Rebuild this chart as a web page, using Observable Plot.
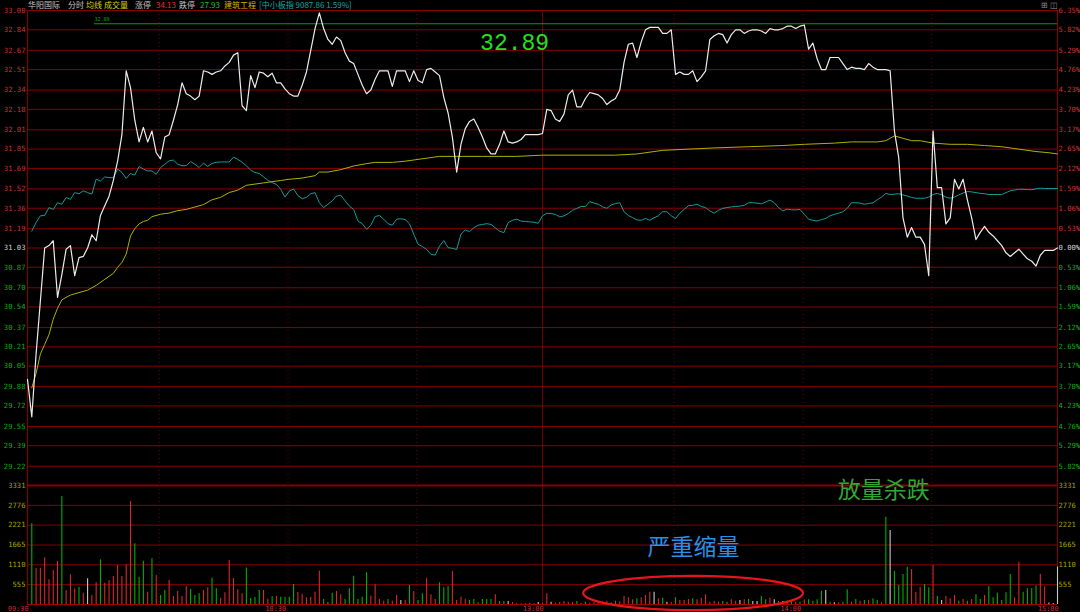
<!DOCTYPE html>
<html>
<head>
<meta charset="utf-8">
<script src="https://cdn.jsdelivr.net/npm/d3@7"></script>
<script src="https://cdn.jsdelivr.net/npm/@observablehq/plot@0.6"></script>
<style>
html,body{margin:0;padding:0;background:#000;}
#wrap{position:relative;width:1080px;height:612px;background:#000;overflow:hidden;}
#hdr span{position:absolute;top:0;font-family:"Noto Sans CJK SC",sans-serif;font-size:8px;line-height:10px;white-space:pre;}
#p1,#p2{position:relative;}
</style>
</head>
<body>
<div id="wrap"><div id="p1"></div><div id="p2"></div><div id="hdr"></div></div>
<script>
// ---------------- data ----------------
const basePrice = 31.03;          // previous close
const highMark = 32.89;           // day-high reference line
const priceTickLabels = ["33.00","32.84","32.67","32.51","32.34","32.18","32.01","31.85","31.69","31.52","31.36","31.19",
  "31.03","30.87","30.70","30.54","30.37","30.21","30.05","29.88","29.72","29.55","29.39","29.22"];
const pctTickLabels = ["6.35%","5.82%","5.29%","4.76%","4.23%","3.70%","3.17%","2.65%","2.12%","1.59%","1.06%","0.53%",
  "0.00%","0.53%","1.06%","1.59%","2.12%","2.65%","3.17%","3.70%","4.23%","4.76%","5.29%","5.82%"];
const volTickLabels = ["3331","2776","2221","1665","1110","555"];
const timeTickMinutes = [0, 60, 120, 180, 240];
const timeTickLabels = ["09:30","10:30","13:00","14:00","15:00"];
const halfHourMinutes = [30, 60, 90, 150, 180, 210];
const lunchBreakMinute = 120;

// minute-by-minute last price, minute 0 = 09:30 ... minute 240 = 15:00
const price = [
29.94,29.63,30.15,30.59,31.03,31.05,31.09,30.62,30.81,31.02,
31.05,30.80,30.95,30.96,31.03,31.14,31.09,31.30,31.38,31.46,
31.59,31.75,31.97,32.50,32.36,32.09,31.91,32.03,31.91,32.00,
31.82,31.77,31.95,31.97,32.09,32.22,32.40,32.31,32.29,32.26,
32.29,32.50,32.49,32.47,32.49,32.50,32.54,32.57,32.63,32.65,
32.21,32.17,32.46,32.36,32.49,32.48,32.45,32.48,32.40,32.40,
32.35,32.31,32.29,32.29,32.38,32.49,32.67,32.85,32.98,32.85,
32.76,32.72,32.78,32.75,32.65,32.58,32.56,32.47,32.38,32.31,
32.34,32.43,32.50,32.50,32.50,32.37,32.50,32.50,32.50,32.41,
32.50,32.42,32.40,32.51,32.52,32.49,32.46,32.28,32.15,31.95,
31.66,31.89,32.02,32.08,32.10,32.03,31.95,31.86,31.81,31.81,
31.89,32.00,31.91,31.90,31.91,31.93,31.97,31.97,31.97,31.97,
31.98,32.18,32.17,32.10,32.08,32.14,32.30,32.34,32.20,32.20,
32.27,32.32,32.31,32.30,32.27,32.22,32.25,32.27,32.34,32.57,
32.72,32.73,32.61,32.74,32.84,32.86,32.86,32.86,32.81,32.81,
32.84,32.47,32.49,32.47,32.47,32.50,32.41,32.45,32.50,32.76,
32.79,32.81,32.80,32.73,32.80,32.84,32.84,32.81,32.83,32.84,
32.84,32.83,32.81,32.85,32.84,32.84,32.85,32.87,32.87,32.85,
32.87,32.88,32.68,32.73,32.60,32.51,32.51,32.61,32.61,32.61,
32.56,32.51,32.53,32.52,32.52,32.51,32.56,32.53,32.51,32.51,
32.51,32.50,32.00,31.78,31.28,31.12,31.20,31.12,31.12,31.06,
30.80,32.00,31.53,31.53,31.23,31.28,31.60,31.52,31.60,31.43,
31.28,31.10,31.16,31.21,31.16,31.13,31.09,31.05,30.99,30.96,
30.99,31.02,30.98,30.94,30.92,30.88,30.97,31.01,31.01,31.01,
31.03];

// average price line (均线)
const avgMinutes = [1,2,3,4,5,6,7,8,10,12,14,16,18,20,21,22,23,24,25,26,27,28,29,31,33,35,37,39,41,43,45,47,49,51,53,55,57,59,
  61,64,67,68,70,73,76,79,81,85,88,90,94,96,100,106,114,120,137,142,148,160,168,176,
  181,188,192,198,200,201,202,204,206,208,211,215,219,223,227,231,235,238,240];
const avgPrices = [29.87,29.99,30.15,30.23,30.31,30.44,30.53,30.60,30.64,30.66,30.68,30.72,30.77,30.82,
  30.87,30.91,30.98,31.13,31.19,31.23,31.25,31.26,31.29,
  31.31,31.32,31.34,31.35,31.37,31.39,31.43,31.45,31.49,31.51,31.55,31.56,31.57,31.58,31.59,
  31.60,31.61,31.63,31.66,31.66,31.68,31.71,31.73,31.74,31.74,31.75,31.76,31.78,31.79,31.79,31.79,31.79,31.80,
  31.80,31.81,31.84,31.86,31.87,31.88,
  31.89,31.90,31.91,31.91,31.92,31.94,31.96,31.94,31.92,31.92,31.90,31.89,31.89,31.88,31.87,31.85,31.83,31.82,31.81];

// 中小板指 % change, minutes 1..240
const indexPct = [
0.45,0.68,0.86,0.87,1.08,1.03,1.21,1.17,1.35,1.30,
1.48,1.45,1.53,1.48,1.44,1.84,1.79,1.90,1.88,1.88,
2.11,2.02,1.86,1.99,1.95,2.18,2.11,2.06,2.06,1.97,
2.15,2.24,2.33,2.35,2.24,2.20,2.20,2.31,2.24,2.15,
2.27,2.18,2.26,2.29,2.30,2.30,2.30,2.43,2.37,2.29,
2.20,2.08,2.02,1.99,1.90,1.81,1.75,1.70,1.57,1.36,
1.52,1.58,1.40,1.32,1.35,1.45,1.48,1.21,1.08,1.17,
1.26,1.39,1.41,1.26,1.12,1.03,0.72,0.65,0.50,0.61,
0.84,0.87,0.77,0.65,0.61,0.77,0.78,0.76,0.65,0.37,
0.10,0.04,-0.04,-0.17,-0.19,0.05,0.20,0.01,-0.01,-0.04,
0.37,0.48,0.44,0.54,0.61,0.63,0.65,0.63,0.54,0.45,
0.41,0.68,0.74,0.77,0.72,0.71,0.70,0.69,0.66,0.86,
0.93,0.92,0.90,0.83,0.86,0.92,1.01,1.06,1.11,1.11,
1.24,1.20,1.17,1.10,1.06,1.15,1.19,1.21,0.97,0.87,
0.81,0.75,0.74,0.79,0.74,0.81,0.86,0.97,0.97,0.86,
0.79,0.93,1.03,1.13,1.14,1.17,1.11,1.08,0.99,0.93,
1.01,1.06,1.08,1.10,1.11,1.12,1.14,1.21,1.21,1.20,
1.18,1.23,1.28,1.21,1.08,0.99,1.04,1.02,1.02,1.03,
0.90,0.77,0.74,0.72,0.76,0.79,0.86,0.90,0.93,0.97,
1.06,1.21,1.21,1.20,1.17,1.19,1.21,1.29,1.36,1.46,
1.43,1.44,1.45,1.42,1.39,1.35,1.33,1.33,1.33,1.36,
1.43,1.46,1.42,1.36,1.33,1.36,1.42,1.47,1.51,1.50,
1.48,1.46,1.45,1.43,1.43,1.43,1.43,1.48,1.53,1.55,
1.57,1.57,1.56,1.56,1.58,1.60,1.59,1.59,1.59,1.59];

// volume (lots) per minute, minute 0..240
const volume = [0,
2260,1017,1017,1306,690,952,1204,3023,392,830,
438,485,317,718,252,606,1250,597,672,784,
1092,784,1110,2883,1698,765,1213,345,1278,812,
252,392,672,224,364,224,504,420,252,299,
392,467,737,438,177,327,1232,728,415,299,
1020,170,195,392,392,150,215,224,205,205,
205,560,336,290,187,205,340,933,140,65,
317,364,271,140,439,793,140,205,886,233,
550,140,93,140,93,252,112,112,532,364,
112,299,737,271,140,606,467,504,924,112,
205,140,112,140,47,140,140,140,271,84,
84,84,56,19,19,19,37,19,56,37,
299,65,37,56,84,65,56,84,37,65,
37,47,37,65,93,47,93,75,224,187,
131,159,187,252,345,345,159,177,65,65,
187,112,112,140,159,131,177,271,65,84,
65,84,65,131,93,112,131,140,84,84,
224,131,177,131,84,84,93,84,65,65,
131,131,93,131,373,392,65,47,47,65,
410,65,140,93,112,112,159,112,47,2440,
2070,924,532,840,1040,980,345,485,560,467,
1092,224,112,224,159,252,93,140,93,140,
271,140,252,504,187,317,112,327,840,187,
1180,345,439,450,520,840,500,40,30,1050];
// bar direction: r = up, g = down, w = unchanged
const volumeDir = ["w",
"g","r","r","r","r","r","r","g","r","r",
"r","g","r","w","r","r","g","r","r","r",
"r","r","r","r","g","g","g","r","g","r",
"g","g","r","r","r","r","r","g","g","g",
"r","r","g","g","r","r","r","r","r","r",
"g","g","g","g","r","r","g","r","g","g",
"g","g","r","r","r","r","r","r","g","g",
"g","r","r","g","g","g","g","g","g","r",
"r","r","r","g","r","r","w","r","g","r",
"g","g","r","r","r","g","g","g","r","r",
"r","r","g","g","g","g","g","g","r","g",
"g","w","r","r","r","r","r","r","w","r",
"r","w","r","r","r","r","r","g","r","g",
"r","r","r","r","r","r","r","r","r","r",
"r","g","r","r","r","w","r","g","w","r",
"g","r","r","r","g","r","r","r","r","r",
"r","g","g","r","r","w","r","g","w","w",
"g","g","r","w","g","w","g","g","r","g",
"r","g","g","g","g","w","g","w","r","g",
"g","r","g","r","g","r","g","g","r","g",
"w","g","g","g","g","r","r","r","g","g",
"r","g","w","r","r","r","g","r","g","r",
"g","g","r","g","g","g","g","g","g","r",
"r","g","g","g","g","r","r","w","w","w"];

// ---------------- derived tables ----------------
const lowPrice = +(2 * basePrice - +priceTickLabels[0]).toFixed(2);
const highPrice = +priceTickLabels[0];
const priceRows = price.map((p, m) => ({m, p}));
const avgRows = avgMinutes.map((m, i) => ({m, p: avgPrices[i]}));
const idxRows = indexPct.map((v, i) => ({m: i + 1, p: basePrice * (1 + v / 100)}));
const volRows = volume.map((v, m) => ({m, v, d: volumeDir[m]})).filter(d => d.v > 0);
const priceTicks = priceTickLabels.map((label, i) => ({v: +label, label, pct: pctTickLabels[i], i}));
const volTicks = volTickLabels.map(label => ({v: +label, label}));
const timeTicks = timeTickMinutes.map((m, i) => ({m, label: timeTickLabels[i]}));

const mono = "DejaVu Sans Mono, monospace";
const cjk = "Noto Sans CJK SC, sans-serif";
const gridRed = "#880000";
const vGrid = "#6e0000";
const upRed = "#cc3333", downGreen = "#19a819", flatWhite = "#d2d2d2";
const tickColor = d => d.i < 12 ? upRed : d.i === 12 ? flatWhite : downGreen;
const barColor = {r: "#d42a2a", g: "#00b000", w: "#c8c8c8"};
const volTextColor = "#a8a000";
const common = {
  width: 1080, marginLeft: 27, marginRight: 23,
  x: {domain: [0, 240], axis: null},
  style: {background: "transparent", overflow: "visible", fontFamily: mono}
};

// ---------------- price pane ----------------
const p1 = Plot.plot({
  ...common,
  height: 485, marginTop: 10, marginBottom: 0,
  y: {domain: [lowPrice, highPrice], axis: null},
  marks: [
    Plot.ruleY(priceTicks, {y: "v", stroke: gridRed, strokeWidth: 1}),
    Plot.ruleX(halfHourMinutes, {stroke: vGrid, strokeDasharray: "1,3", dx: 3}),
    Plot.ruleX([lunchBreakMinute], {stroke: vGrid}),
    Plot.ruleX([0, 240], {stroke: gridRed}),
    Plot.ruleY([{y: highMark, x1: 15.6, x2: 240}], {y: "y", x1: "x1", x2: "x2", stroke: "#00a000", strokeWidth: 1.2}),
    Plot.text([{y: highMark, x: 15.6}], {x: "x", y: "y", text: d => d.y.toFixed(2), fill: "#10b010", fontSize: 5, textAnchor: "start", dy: -4}),
    Plot.line(idxRows, {x: "m", y: "p", stroke: "#169b9b", strokeWidth: 1}),
    Plot.line(avgRows, {x: "m", y: "p", stroke: "#b0b000", strokeWidth: 1}),
    Plot.line(priceRows, {x: "m", y: "p", stroke: "#ececec", strokeWidth: 1.2}),
    Plot.text(priceTicks, {y: "v", text: "label", frameAnchor: "left", textAnchor: "end", dx: -2, fill: tickColor, fontSize: 7.2, fontFamily: mono}),
    Plot.text(priceTicks, {y: "v", text: "pct", frameAnchor: "right", textAnchor: "start", dx: 1, fill: tickColor, fontSize: 7.2, fontFamily: mono}),
    Plot.text([{m: 113.5, p: 32.735, t: highMark.toFixed(2)}], {x: "m", y: "p", text: "t", fill: "#22e022", fontSize: 23, fontFamily: "Liberation Mono, monospace"})
  ]
});
document.getElementById("p1").append(p1);

// ---------------- volume pane ----------------
const p2 = Plot.plot({
  ...common,
  height: 127, marginTop: 0, marginBottom: 8,
  y: {domain: [0, +volTickLabels[0]], axis: null},
  marks: [
    Plot.ruleY(volTicks, {y: "v", stroke: gridRed}),
    Plot.ruleY([+volTickLabels[0]], {stroke: gridRed, strokeWidth: 2}),
    Plot.ruleY([0], {stroke: "#a00000"}),
    Plot.ruleX(halfHourMinutes, {stroke: vGrid, strokeDasharray: "1,3", dx: 3}),
    Plot.ruleX([lunchBreakMinute], {stroke: vGrid}),
    Plot.ruleX([0, 240], {stroke: gridRed}),
    Plot.ruleX(volRows, {x: "m", y1: 0, y2: "v", stroke: d => barColor[d.d], strokeWidth: 1.1}),
    Plot.text(volTicks, {y: "v", text: "label", frameAnchor: "left", textAnchor: "end", dx: -2, fill: volTextColor, fontSize: 7.2, fontFamily: mono}),
    Plot.text(volTicks, {y: "v", text: "label", frameAnchor: "right", textAnchor: "start", dx: 1, fill: volTextColor, fontSize: 7.2, fontFamily: mono}),
    Plot.text(timeTicks, {x: "m", text: "label", frameAnchor: "bottom", lineAnchor: "middle", textAnchor: "end", dx: 1, dy: 4, fill: "#c83232", fontSize: 6.8, fontFamily: mono}),
    Plot.text([{m: 199.5, v: 3190, t: "放量杀跌"}], {x: "m", y: "v", text: "t", fill: "#34a634", fontSize: 23, fontFamily: cjk}),
    Plot.text([{m: 155.2, v: 1600, t: "严重缩量"}], {x: "m", y: "v", text: "t", fill: "#2a8fe6", fontSize: 23, fontFamily: cjk})
  ]
});
document.getElementById("p2").append(p2);

// red ellipse around the shrinking-volume zone
{
  const sx = p2.scale("x"), sy = p2.scale("y");
  const e = {m0: 129.6, m1: 180.8, vTop: 790, vBottom: -170};
  d3.select(p2).append("ellipse")
    .attr("cx", (sx.apply(e.m0) + sx.apply(e.m1)) / 2)
    .attr("cy", (sy.apply(e.vTop) + sy.apply(e.vBottom)) / 2)
    .attr("rx", (sx.apply(e.m1) - sx.apply(e.m0)) / 2)
    .attr("ry", (sy.apply(e.vBottom) - sy.apply(e.vTop)) / 2)
    .attr("fill", "none").attr("stroke", "#e8141c").attr("stroke-width", 2.2);
}

// ---------------- header ----------------
const header = [
  ["华阳国际", 28, "#c4c4c4"], ["分时", 68, "#c4c4c4"], ["均线", 86, "#d6d600"], ["成交量", 104, "#d6d600"],
  ["涨停", 135, "#c4c4c4"], ["34.13", 156, "#e03232"], ["跌停", 179, "#c4c4c4"], ["27.93", 200, "#1ec01e"],
  ["建筑工程", 224, "#d8b000"], ["[中小板指 9087.86 1.59%]", 259, "#10a6a6"], ["⊞ ◫", 1041, "#8c8c8c"]
];
const hdr = d3.select("#hdr");
header.forEach(([t, x, c]) => hdr.append("span").text(t).style("left", x + "px").style("color", c));
</script>
</body>
</html>
